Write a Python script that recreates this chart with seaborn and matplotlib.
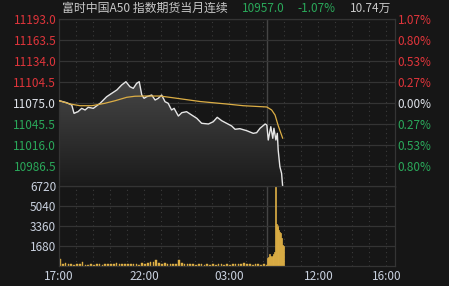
import numpy as np
import pandas as pd
import matplotlib
matplotlib.use("Agg")
import matplotlib.pyplot as plt
from matplotlib.patches import Polygon
import seaborn as sns

# ---------------- data ----------------
title = "富时中国A50 指数期货当月连续"
last_price = "10957.0"
last_change = "-1.07%"
last_volume = "10.74万"

price_time = ["17:01", "17:14", "17:27", "17:45", "17:53", "18:07", "18:20", "18:32", "18:43",
              "19:01", "19:25", "19:48", "20:06", "20:24", "20:41", "20:56", "21:10", "21:22",
              "21:34", "21:43", "21:52", "22:00", "22:09", "22:27", "22:39", "22:50", "23:02",
              "23:14", "23:25", "23:37", "23:46", "00:01", "00:13", "00:30", "00:48", "01:06",
              "01:23", "01:47", "02:04", "02:18", "02:34", "02:51", "03:09", "03:21", "03:38",
              "04:02", "04:25", "04:37", "04:49", "05:07", "05:13",
              "09:03", "09:12", "09:19", "09:23", "09:30", "09:35", "09:38", "09:44", "09:50", "09:54"]
price_value = [11078.2, 11076.8, 11075.4, 11072.2, 11060.5, 11062.8, 11067.5, 11065.2, 11069.0,
               11067.5, 11074.6, 11083.8, 11088.6, 11093.3, 11100.3, 11104.9, 11097.9, 11095.6,
               11102.7, 11104.9, 11086.2, 11081.6, 11083.8, 11086.2, 11079.2, 11081.6, 11086.2,
               11076.8, 11074.6, 11065.2, 11067.5, 11056.7, 11061.4, 11062.8, 11058.1, 11053.5,
               11046.5, 11045.5, 11048.7, 11054.9, 11050.1, 11046.5, 11042.7, 11038.1, 11038.9,
               11036.1, 11032.4, 11033.3, 11039.5, 11045.5, 11044.1,
               11023.0, 11041.7, 11025.4, 11039.5, 11023.0, 11032.4, 11009.0, 10985.5, 10976.2, 10957.0]

avg_time = ["17:01", "17:39", "18:14", "18:56", "19:42", "20:18", "20:59", "21:28", "22:03",
            "22:56", "23:43", "01:17", "02:51", "03:50", "05:13", "09:15", "09:27", "09:38", "09:54"]
avg_value = [11078.2, 11073.6, 11071.2, 11071.2, 11074.6, 11078.2, 11083.0, 11084.5, 11084.8,
             11084.8, 11082.3, 11077.1, 11073.6, 11071.2, 11069.4, 11065.2, 11058.1, 11043.3, 11025.4]

# night session volume, one value per 10 minutes from 17:00
night_volume = [590, 170, 250, 130, 170, 100, 170, 130, 340, 80, 60, 130, 100, 170, 130, 100,
                130, 170, 130, 200, 250, 170, 200, 130, 170, 200, 130, 170, 100, 250, 200, 250,
                300, 340, 500, 250, 200, 250, 170, 200, 130, 170, 470, 250, 130, 170, 130, 170,
                100, 130, 170, 100, 130, 100, 130, 100, 170, 130, 100, 130, 100, 130, 170, 130,
                170, 250, 170, 130, 100, 130, 170, 100, 130, 60]
# day session volume, one value per 3 minutes from 09:00
day_volume = [650, 780, 1000, 840, 730, 880, 920, 1000, 1200, 6700, 3550, 3300, 3440, 3000,
              2880, 2740, 2320, 1760, 1680]

price_ticks = [11193.0, 11163.5, 11134.0, 11104.5, 11075.0, 11045.5, 11016.0, 10986.5]
pct_labels = ["1.07%", "0.80%", "0.53%", "0.27%", "0.00%", "0.27%", "0.53%", "0.80%"]
price_min, price_max = 10957.0, 11193.0
vol_ticks = [1680, 3360, 5040, 6720]
time_labels = ["17:00", "22:00", "03:00", "12:00", "16:00"]
grid_hours = ["18:00", "19:00", "20:00", "21:00", "22:00", "23:00", "00:00", "01:00", "02:00",
              "03:00", "04:00", "05:00", "10:00", "11:00", "12:00", "13:00", "14:00", "15:00", "16:00"]


def tmin(s):
    """clock time -> minutes along the trading timeline (night 17:00-05:15, day 09:00-16:30)"""
    h, m = map(int, s.split(":"))
    t = h * 60 + m
    if t >= 17 * 60:
        return t - 17 * 60
    if t <= 5 * 60 + 15:
        return t + 7 * 60
    return 735 + t - 9 * 60


# ---------------- style ----------------
BG = "#161616"
GRID = "#343434"
RED = "#e0353b"
GREEN = "#2aa85a"
WHITE = "#dfe3ea"
GOLD = "#dcae45"

sns.set_theme(style="dark", rc={"figure.facecolor": BG, "axes.facecolor": BG,
                                "axes.edgecolor": GRID, "savefig.facecolor": BG})
plt.rcParams["font.family"] = ["Noto Sans CJK SC", "DejaVu Sans"]

W, H = 449, 286
fig = plt.figure(figsize=(W / 100, H / 100), dpi=100)
L, R = 59, 395
ax1 = fig.add_axes([L / W, 1 - 187 / H, (R - L) / W, 168 / H])
ax2 = fig.add_axes([L / W, 1 - 266 / H, (R - L) / W, 80 / H])

xmax = tmin("16:30")

df_p = pd.DataFrame({"t": [tmin(s) for s in price_time], "p": price_value})
df_a = pd.DataFrame({"t": [tmin(s) for s in avg_time], "p": avg_value})

# gradient fill under the price line
poly_xy = np.column_stack([np.r_[df_p.t.iloc[0], df_p.t, df_p.t.iloc[-1]],
                           np.r_[price_min, df_p.p, price_min]])
poly = Polygon(poly_xy, closed=True, facecolor="none", edgecolor="none")
ax1.add_patch(poly)
grad = np.linspace(0, 1, 256).reshape(-1, 1)
cmap = matplotlib.colors.LinearSegmentedColormap.from_list("g", ["#1a1a1a", "#464646"])
im = ax1.imshow(grad, cmap=cmap, aspect="auto", origin="lower",
                extent=[0, xmax, price_min, 11105], zorder=1)
im.set_clip_path(poly)

sns.lineplot(data=df_p, x="t", y="p", ax=ax1, color="#e6e6e6", lw=1.0, zorder=3)
sns.lineplot(data=df_a, x="t", y="p", ax=ax1, color=GOLD, lw=0.9, zorder=4)

df_vn = pd.DataFrame({"t": [10 * i for i in range(len(night_volume))], "v": night_volume})
df_vd = pd.DataFrame({"t": [tmin("09:00") + 3 * i for i in range(len(day_volume))], "v": day_volume})
ax2.bar(df_vn.t, df_vn.v, width=6, align="edge", color=GOLD, linewidth=0.3, edgecolor=GOLD, zorder=2)
ax2.bar(df_vd.t, df_vd.v, width=3, align="edge", color=GOLD, linewidth=0.5, edgecolor=GOLD, zorder=2)

for ax in (ax1, ax2):
    ax.set_xlim(0, xmax)
    ax.set_xlabel("")
    ax.set_ylabel("")
    ax.grid(False)
    for sp in ax.spines.values():
        sp.set_color(GRID)
        sp.set_linewidth(0.9)
    for hh in grid_hours:
        ax.axvline(tmin(hh), color="#3a3a3a", lw=0.8, ls=(0, (1, 3)), zorder=0)
    ax.axvline(tmin("09:00"), color="#454545", lw=1.0, zorder=0)
    ax.tick_params(length=0)

ax1.set_ylim(price_min, price_max)
for yv in price_ticks:
    ax1.axhline(yv, color=GRID, lw=0.9, zorder=0)
ax1.set_yticks(price_ticks)
ax1.set_yticklabels([f"{v:.1f}" for v in price_ticks], fontsize=8.5)
ax1.set_xticks([])
ref = 11075.0
for lab, v in zip(ax1.get_yticklabels(), price_ticks):
    lab.set_color(RED if v > ref else (GREEN if v < ref else WHITE))
ax1.tick_params(axis="y", pad=2)

axr = ax1.twinx()
axr.set_ylim(price_min, price_max)
axr.set_yticks(price_ticks)
axr.set_yticklabels(pct_labels, fontsize=8.5)
for lab, v in zip(axr.get_yticklabels(), price_ticks):
    lab.set_color(RED if v > ref else (GREEN if v < ref else WHITE))
axr.tick_params(length=0, pad=2)
axr.grid(False)
for sp in axr.spines.values():
    sp.set_visible(False)

ax2.set_ylim(0, 6720)
for yv in vol_ticks:
    ax2.axhline(yv, color=GRID, lw=0.9, zorder=0)
ax2.set_yticks(vol_ticks)
ax2.set_yticklabels([str(v) for v in vol_ticks], fontsize=8.5, color="#c9d1df")
ax2.set_xticks([tmin(s) for s in time_labels])
ax2.set_xticklabels(time_labels, fontsize=8.5, color="#c9d1df")
ax2.tick_params(axis="y", pad=2)
ax2.tick_params(axis="x", pad=3)

ty = 1 - 8 / H
fig.text(62 / W, ty, title, color="#c8c8c8", fontsize=8.6, va="center", ha="left")
fig.text(242 / W, ty, last_price, color=GREEN, fontsize=8.5, va="center", ha="left")
fig.text(297 / W, ty, last_change, color=GREEN, fontsize=8.5, va="center", ha="left")
fig.text(350 / W, ty, last_volume, color="#c8c8c8", fontsize=8.5, va="center", ha="left")

fig.savefig("out.png", dpi=100, facecolor=BG)
